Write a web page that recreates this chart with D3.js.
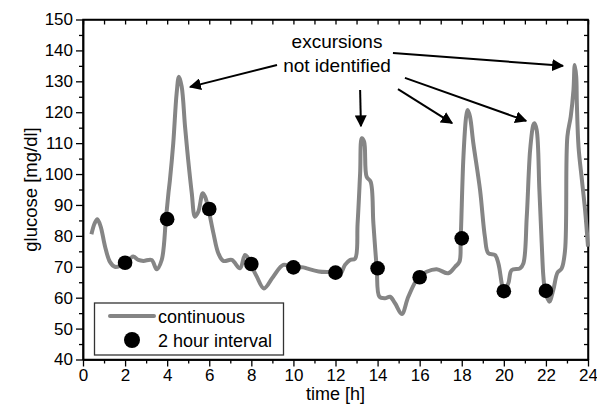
<!DOCTYPE html>
<html>
<head>
<meta charset="utf-8">
<script src="https://cdn.jsdelivr.net/npm/d3@7"></script>
<style>
  body { margin: 0; background: #fff; }
  text { font-family: "Liberation Sans", Arial, sans-serif; fill: #000; }
</style>
</head>
<body>
<div id="chart"></div>
<script>
// continuous glucose trace (hours, mg/dl)
const hours = [0.40, 0.55, 0.68, 0.84, 1.05, 1.28, 1.52, 1.75, 1.96, 2.23, 2.39, 2.63, 2.87, 3.26, 3.5, 3.74, 3.94, 4.06, 4.13, 4.29, 4.45, 4.56, 4.69, 4.85, 5.0, 5.17, 5.32, 5.48, 5.69, 5.8, 5.96, 6.2, 6.43, 6.67, 7.07, 7.46, 7.7, 7.86, 7.97, 8.26, 8.6, 9.04, 9.52, 9.95, 10.47, 10.63, 11.2, 11.94, 12.21, 12.45, 12.69, 12.93, 13.05, 13.17, 13.25, 13.36, 13.48, 13.67, 13.8, 13.96, 14.09, 14.35, 14.59, 14.83, 15.15, 15.46, 15.94, 16.33, 16.81, 17.36, 17.68, 17.89, 17.95, 18.08, 18.21, 18.28, 18.39, 18.55, 18.87, 19.1, 19.26, 19.58, 19.74, 19.9, 19.98, 20.21, 20.37, 20.77, 20.93, 21.09, 21.25, 21.4, 21.45, 21.56, 21.69, 21.8, 21.88, 21.96, 22.16, 22.35, 22.55, 22.75, 22.91, 23.02, 23.18, 23.31, 23.37, 23.44, 23.47, 23.55, 23.71, 23.86, 24.0];
const glucose = [80.5, 84, 85.4, 83, 76.5, 71.6, 70, 70.3, 71.3, 72.7, 73.3, 72.2, 71.9, 72.2, 69.2, 72.2, 85.4, 93.8, 98, 110, 126.1, 131.5, 128.3, 115.3, 104.5, 93.8, 86.2, 87.8, 93.8, 92.7, 88.7, 80.8, 74.4, 71.9, 72.2, 69.5, 73.8, 72.7, 70.9, 66.8, 63, 66.8, 70.6, 69.8, 69.8, 69.5, 68.5, 68.1, 67.5, 70.6, 72.2, 72.6, 84, 100.2, 111.6, 110.5, 99.1, 97.5, 84.1, 69.5, 60.3, 59.8, 60.3, 58.2, 54.7, 60.3, 66.6, 68.4, 69.2, 67.9, 70, 71.6, 79.2, 105.6, 118.6, 120.7, 118.6, 110, 94.8, 79.7, 74.4, 73.8, 71.1, 64.6, 62.3, 64.6, 68.9, 69.5, 71.1, 86.2, 107.8, 115.9, 116.4, 114.3, 94.8, 77.6, 66.8, 62.3, 58.7, 62.5, 68.1, 69.5, 75.4, 112.1, 118.6, 127.2, 135.3, 131.5, 122.9, 108.8, 98.1, 88.4, 76.5];

// 2 hour samples
const sampleHours = [2, 4, 6, 8, 10, 12, 14, 16, 18, 20, 22];
const sampleValues = [71.3, 85.4, 88.7, 70.9, 69.8, 68.1, 69.5, 66.6, 79.2, 62.1, 62.2];

const xTicks = [0, 2, 4, 6, 8, 10, 12, 14, 16, 18, 20, 22, 24];
const yTicks = [40, 50, 60, 70, 80, 90, 100, 110, 120, 130, 140, 150];

// annotation arrows in data units: [fromH, fromV, toH, toV]
const arrows = [
  [9.22, 135.3, 5.09, 128.2],
  [13.17, 127.2, 13.21, 115.5],
  [14.97, 127.5, 17.54, 116.5],
  [15.30, 131.1, 21.06, 117.2],
  [14.73, 139.2, 22.81, 135.0]
];

const W = 597, H = 411;
const margin = { top: 19.5, right: 9, bottom: 51.5, left: 83 };

const svg = d3.select("#chart").append("svg")
    .attr("width", W)
    .attr("height", H);

const x = d3.scaleLinear().domain([0, 24]).range([margin.left, W - margin.right]);
const y = d3.scaleLinear().domain([40, 150]).range([H - margin.bottom, margin.top]);

svg.append("defs").append("marker")
    .attr("id", "head")
    .attr("viewBox", "0 0 10 10")
    .attr("refX", 9).attr("refY", 5)
    .attr("markerWidth", 6).attr("markerHeight", 6)
    .attr("markerUnits", "strokeWidth")
    .attr("orient", "auto")
  .append("path")
    .attr("d", "M0,0 L10,5 L0,10 z")
    .attr("fill", "#000");

// --- axes ---
svg.append("g")
    .attr("transform", `translate(0,${y(40)})`)
    .call(d3.axisBottom(x).tickValues(xTicks).tickSize(7).tickSizeOuter(0).tickPadding(2));
svg.append("g")
    .attr("transform", `translate(0,${y(40)})`)
    .call(d3.axisBottom(x).tickValues(d3.range(1, 24, 2)).tickSize(4).tickFormat("").tickSizeOuter(0));

svg.append("g")
    .attr("transform", `translate(${x(0)},0)`)
    .call(d3.axisLeft(y).tickValues(yTicks).tickSize(7).tickSizeOuter(0).tickPadding(3));
svg.append("g")
    .attr("transform", `translate(${x(0)},0)`)
    .call(d3.axisLeft(y).tickValues(d3.range(45, 150, 10)).tickSize(4).tickFormat("").tickSizeOuter(0));

// top/right: inward ticks
svg.append("g")
    .attr("transform", `translate(0,${y(150)})`)
    .call(d3.axisBottom(x).tickValues(d3.range(0, 25, 1)).tickSize(5).tickFormat("").tickSizeOuter(0));
svg.append("g")
    .attr("transform", `translate(${x(24)},0)`)
    .call(d3.axisLeft(y).tickValues(d3.range(40, 151, 5)).tickSize(4).tickFormat("").tickSizeOuter(0));

svg.selectAll(".domain").attr("stroke", "#000").attr("stroke-width", 1.5);
svg.selectAll(".tick line").attr("stroke", "#000").attr("stroke-width", 1.3);
svg.selectAll(".tick text")
    .style("font-family", "'Liberation Sans', Arial, sans-serif")
    .style("font-size", "17px")
    .attr("fill", "#000");

// frame
svg.append("rect")
    .attr("x", x(0)).attr("y", y(150))
    .attr("width", x(24) - x(0)).attr("height", y(40) - y(150))
    .attr("fill", "none").attr("stroke", "#000").attr("stroke-width", 1.5);

// axis labels
svg.append("text")
    .attr("x", (x(0) + x(24)) / 2).attr("y", 400)
    .attr("text-anchor", "middle")
    .style("font-size", "18px")
    .text("time [h]");

svg.append("text")
    .attr("transform", `translate(37,${(y(40) + y(150)) / 2}) rotate(-90)`)
    .attr("text-anchor", "middle")
    .style("font-size", "18.5px")
    .text("glucose [mg/dl]");

// --- continuous line ---
const series = hours.map((h, i) => ({ h, v: glucose[i] }));
const line = d3.line()
    .x(d => x(d.h))
    .y(d => y(d.v))
    .curve(d3.curveCatmullRom.alpha(0.5));

svg.append("path")
    .datum(series)
    .attr("d", line)
    .attr("fill", "none")
    .attr("stroke", "#858585")
    .attr("stroke-width", 4)
    .attr("stroke-linejoin", "round");

// --- 2 hour samples ---
svg.selectAll(".sample")
  .data(sampleHours.map((h, i) => ({ h, v: sampleValues[i] })))
  .join("circle")
    .attr("class", "sample")
    .attr("cx", d => x(d.h))
    .attr("cy", d => y(d.v))
    .attr("r", 7.3)
    .attr("fill", "#000");

// --- annotation ---
svg.selectAll(".arrow")
  .data(arrows)
  .join("line")
    .attr("class", "arrow")
    .attr("x1", d => x(d[0])).attr("y1", d => y(d[1]))
    .attr("x2", d => x(d[2])).attr("y2", d => y(d[3]))
    .attr("stroke", "#000")
    .attr("stroke-width", 2)
    .attr("marker-end", "url(#head)");

svg.append("text")
    .attr("x", 337).attr("y", 48)
    .attr("text-anchor", "middle")
    .style("font-size", "19px")
    .text("excursions");
svg.append("text")
    .attr("x", 337).attr("y", 72)
    .attr("text-anchor", "middle")
    .style("font-size", "19px")
    .text("not identified");

// --- legend ---
const lg = svg.append("g");
lg.append("rect")
    .attr("x", 94.5).attr("y", 303)
    .attr("width", 189).attr("height", 52)
    .attr("fill", "#fff")
    .attr("stroke", "#333").attr("stroke-width", 1.3);
lg.append("line")
    .attr("x1", 110).attr("x2", 154)
    .attr("y1", 316).attr("y2", 316)
    .attr("stroke", "#858585").attr("stroke-width", 4)
    .attr("stroke-linecap", "round");
lg.append("text")
    .attr("x", 158).attr("y", 322.5)
    .style("font-size", "18px")
    .text("continuous");
lg.append("circle")
    .attr("cx", 132).attr("cy", 340)
    .attr("r", 8)
    .attr("fill", "#000");
lg.append("text")
    .attr("x", 158).attr("y", 346.5)
    .style("font-size", "18px")
    .text("2 hour interval");
</script>
</body>
</html>
